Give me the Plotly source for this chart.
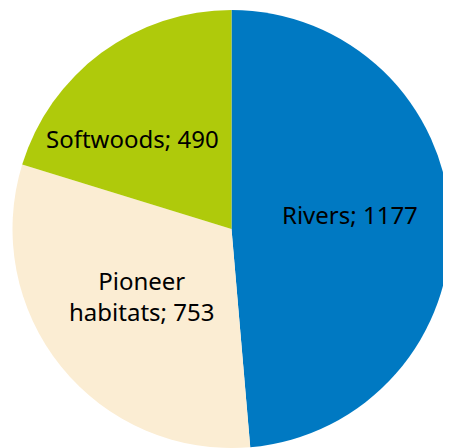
import plotly.graph_objects as go

labels = ["Rivers", "Pioneer<br>habitats", "Softwoods"]
values = [1177, 753, 490]
colors = ["#0079C2", "#FBEDD3", "#AFCA0B"]

# where each slice label sits (paper coords)
label_pos = [(0.770, 0.534), (0.296, 0.347), (0.274, 0.706)]

fig = go.Figure(go.Pie(
    labels=labels,
    values=values,
    sort=False,
    direction="clockwise",
    rotation=0,
    marker=dict(colors=colors, line=dict(width=0)),
    textinfo="none",
    hoverinfo="label+value",
))

for lab, val, (x, y) in zip(labels, values, label_pos):
    fig.add_annotation(
        x=x, y=y, xref="paper", yref="paper",
        text=f"{lab}; {val}",
        showarrow=False,
        xanchor="center", yanchor="middle",
        font=dict(family="Noto Sans", size=24, color="black"),
    )

fig.update_layout(
    width=451,
    height=448,
    margin=dict(l=4, r=8, t=2, b=8),
    showlegend=False,
    paper_bgcolor="white",
)

fig.write_html("out.html")
